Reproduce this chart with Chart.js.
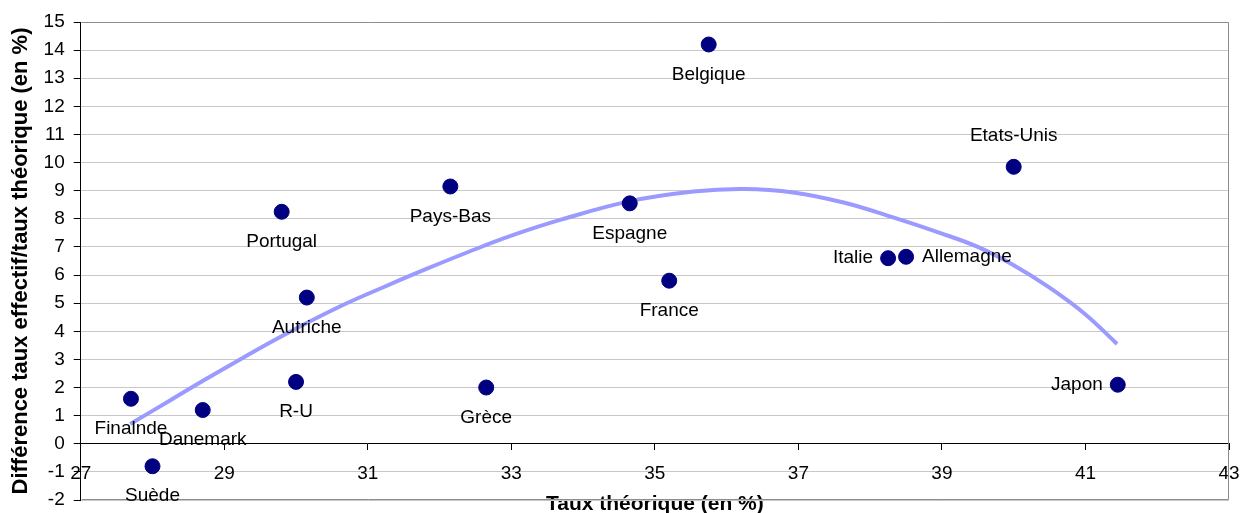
<!DOCTYPE html>
<html><head><meta charset="utf-8">
<script src="https://cdn.jsdelivr.net/npm/chart.js@4.4.0/dist/chart.umd.min.js"></script>
<style>html,body{margin:0;padding:0;background:#fff;}canvas{display:block;}</style>
</head><body>
<canvas id="c" width="1256" height="513"></canvas>
<script>
// ---- data ----
const countries = ['Finalnde','Suède','Danemark','R-U','Autriche','Portugal','Pays-Bas','Grèce','Espagne','France','Belgique','Italie','Allemagne','Etats-Unis','Japon'];
const tauxTheorique = [27.7, 28.0, 28.7, 30.0, 30.15, 29.8, 32.15, 32.65, 34.65, 35.2, 35.75, 38.25, 38.5, 40.0, 41.45];
const difference    = [1.6, -0.8, 1.2, 2.2, 5.2, 8.25, 9.15, 2.0, 8.55, 5.8, 14.2, 6.6, 6.65, 9.85, 2.1];
const trendX = [27.69, 28.25, 28.71, 29.22, 29.78, 30.61, 31.2, 31.8, 32.4, 33.0, 33.68, 34.64, 35.54, 36.23, 36.93, 37.63, 38.32, 38.97, 39.5, 40.0, 40.5, 41.0, 41.44];
const trendY = [0.70, 1.55, 2.25, 3.0, 3.8, 4.88, 5.55, 6.2, 6.82, 7.4, 7.96, 8.62, 8.97, 9.06, 8.94, 8.58, 8.05, 7.5, 7.0, 6.35, 5.55, 4.6, 3.55];
const xTickLabels = [27, 29, 31, 33, 35, 37, 39, 41, 43];
const yTickLabels = [-2, -1, 0, 1, 2, 3, 4, 5, 6, 7, 8, 9, 10, 11, 12, 13, 14, 15];
const xTitle = 'Taux théorique (en %)';
const yTitle = 'Différence taux effectif/taux théorique (en %)';

// ---- style ----
const labelPlacement = {'Etats-Unis': 'above', 'Italie': 'left', 'Japon': 'left', 'Allemagne': 'right'};
const FONT = '"Liberation Sans", Arial, sans-serif';

const pointsData = countries.map((c, i) => ({x: tauxTheorique[i], y: difference[i]}));
const trendData = trendX.map((x, i) => ({x, y: trendY[i]}));

const framePlugin = {
  id: 'frame',
  beforeDatasetsDraw(chart) {
    const {ctx, chartArea: a} = chart;
    ctx.save();
    ctx.strokeStyle = '#8c8c8c';
    ctx.lineWidth = 1;
    ctx.beginPath();
    ctx.moveTo(a.left + 1, Math.round(a.top) + 0.5);
    ctx.lineTo(Math.round(a.right) - 0.5, Math.round(a.top) + 0.5);
    ctx.lineTo(Math.round(a.right) - 0.5, Math.round(a.bottom) - 0.5);
    ctx.lineTo(a.left + 1, Math.round(a.bottom) - 0.5);
    ctx.stroke();
    ctx.restore();
  }
};

const labelPlugin = {
  id: 'pointLabels',
  afterDatasetsDraw(chart) {
    const meta = chart.getDatasetMeta(0);
    const ctx = chart.ctx;
    ctx.save();
    ctx.font = '19px ' + FONT;
    ctx.fillStyle = '#000';
    ctx.textBaseline = 'middle';
    meta.data.forEach((pt, i) => {
      const name = countries[i];
      const place = labelPlacement[name] || 'below';
      let x = pt.x, y = pt.y;
      if (place === 'below') { ctx.textAlign = 'center'; y += 30; }
      else if (place === 'above') { ctx.textAlign = 'center'; y -= 31; }
      else if (place === 'left') { ctx.textAlign = 'right'; x -= 15; }
      else { ctx.textAlign = 'left'; x += 16; }
      ctx.fillText(name, x, y);
    });
    ctx.restore();
  }
};

new Chart(document.getElementById('c'), {
  type: 'scatter',
  data: {
    datasets: [
      {
        label: 'Pays',
        data: pointsData,
        backgroundColor: '#000080',
        borderColor: '#000080',
        pointRadius: 7.5,
        pointHoverRadius: 7.5,
        order: 1
      },
      {
        label: 'Tendance',
        type: 'line',
        data: trendData,
        borderColor: '#9a9aff',
        borderWidth: 4,
        pointRadius: 0,
        tension: 0.4,
        fill: false,
        order: 2
      }
    ]
  },
  options: {
    responsive: false,
    animation: false,
    devicePixelRatio: 1,
    layout: {padding: {left: 0, top: 22, right: 27, bottom: 13}},
    plugins: {legend: {display: false}, tooltip: {enabled: false}},
    scales: {
      x: {
        type: 'linear',
        position: {y: 0},
        min: xTickLabels[0],
        max: xTickLabels[xTickLabels.length - 1],
        afterBuildTicks(scale) { scale.ticks = xTickLabels.map(v => ({value: v})); },
        grid: {drawOnChartArea: false, drawTicks: true, tickLength: 6, tickColor: '#000'},
        border: {color: '#000', width: 1},
        ticks: {autoSkip: false, maxRotation: 0, padding: 12.5, color: '#000', font: {family: FONT, size: 19}},
        title: {display: true, text: xTitle, color: '#000', font: {family: FONT, size: 21, weight: 'bold'}, padding: {top: -6, bottom: 0}}
      },
      y: {
        type: 'linear',
        position: 'left',
        min: yTickLabels[0],
        max: yTickLabels[yTickLabels.length - 1],
        afterBuildTicks(scale) { scale.ticks = yTickLabels.map(v => ({value: v})); },
        grid: {color: '#c8c8c8', lineWidth: 1, drawTicks: true, tickLength: 7, tickColor: '#000'},
        border: {color: '#000', width: 1},
        ticks: {autoSkip: false, padding: 9, color: '#000', font: {family: FONT, size: 19, lineHeight: 0.4}},
        title: {display: true, text: yTitle, color: '#000', font: {family: FONT, size: 22, weight: 'bold'}, padding: {top: 7.5, bottom: 0.7}}
      }
    }
  },
  plugins: [framePlugin, labelPlugin]
});
</script>
</body></html>
